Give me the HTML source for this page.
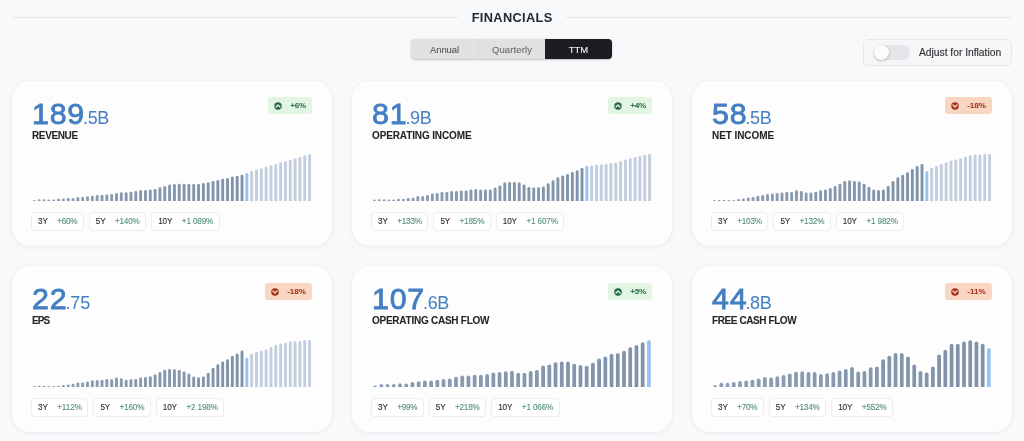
<!DOCTYPE html>
<html><head><meta charset="utf-8"><title>Financials</title>
<style>
*{box-sizing:border-box;margin:0;padding:0}
.num,.label,.badge,.pills,.title,.tabs,.infl{will-change:transform}
html,body{width:1024px;height:441px;overflow:hidden;-webkit-font-smoothing:antialiased;background:#f8f9fb;font-family:"Liberation Sans",Arial,sans-serif;}
.hline{position:absolute;top:17px;height:1px;background:#e5e6e9}
.title{position:absolute;left:0;width:1024px;top:9.5px;text-align:center;font-weight:bold;font-size:12.8px;color:#232a33;line-height:16px}
.tabs{position:absolute;left:410.7px;top:39.4px;width:201px;height:19.8px;border-radius:4px;background:#e0e1e3;box-shadow:0 1px 2px rgba(0,0,0,0.2),0 0 3px rgba(0,0,0,0.06);display:flex;overflow:hidden}
.tab{width:67px;height:100%;font-size:9.5px;line-height:21.8px;-webkit-text-stroke:0.1px currentColor;text-align:center;color:#6b6b6e}
.tab.a{color:#58585b}
.tab.sep{border-left:1px solid #d9dadc}
.tab.on{background:#1c1d20;color:#f2f2f2}
.infl{position:absolute;left:863px;top:39px;width:149px;height:26.5px;border:1px solid #e7e8eb;border-radius:5px;background:#f5f6f8}
.track{position:absolute;left:9.5px;top:4.8px;width:36px;height:15px;border-radius:8px;background:#e4e5e8}
.knob{position:absolute;left:9.6px;top:5px;width:15px;height:15px;border-radius:50%;background:#fbfbfb;box-shadow:0 1px 2.5px rgba(0,0,0,0.25)}
.infl .txt{position:absolute;left:55px;top:6px;font-size:10.3px;line-height:13px;color:#2f3033;-webkit-text-stroke:0.12px #2f3033}
.card{position:absolute;width:320px;height:165px;background:#fdfdfe;border-radius:18px;box-shadow:0 1px 5px rgba(30,40,60,0.065),0 0 1.5px rgba(30,40,60,0.05)}
.num{position:absolute;left:20px;top:14px;white-space:nowrap;color:#437fc2;line-height:36px}
.big{font-weight:normal;font-size:30.4px;-webkit-text-stroke:0.85px #437fc2}
.small{font-size:18px;margin-left:-1.8px}
.label{position:absolute;left:20px;top:48.6px;font-weight:bold;font-size:10px;line-height:12px;color:#222427;white-space:nowrap;-webkit-text-stroke:0.05px #222427}
.badge{position:absolute;right:20px;top:15.8px;height:16.8px;border-radius:3px;display:flex;align-items:center;padding:1px 6.5px 0 6.2px;font-size:8.1px;font-weight:bold}
.pct{-webkit-text-stroke:0.05px currentColor}
.badge svg{display:block;margin-right:8px}
.badge.up{background:#e2f6e3;color:#2f6f55}
.badge.dn{background:#f8d6c1;color:#a8331f}
.chart{position:absolute;left:20px;top:72px}
.pills{position:absolute;left:19.4px;top:130.5px;display:flex}
.pill{height:18.6px;border:1px solid #eeeef0;box-shadow:0 0 1px rgba(0,0,0,0.05);border-radius:4px;background:#fff;display:flex;align-items:center;padding:0.6px 5.4px 0 6.1px;margin-right:5px;font-size:8.2px;white-space:nowrap;-webkit-text-stroke:0.12px currentColor}
.pl{color:#2e2f33;margin-right:9.5px}
.pv{color:#53907a}
</style></head>
<body>
<div class="hline" style="left:12px;width:446px"></div>
<div class="hline" style="left:566px;width:446px"></div>
<div class="title"><span style="letter-spacing:0.342px;margin-right:-0.342px">FINANCIALS</span></div>
<div class="tabs"><div class="tab a"><span style="letter-spacing:-0.102px">Annual</span></div><div class="tab sep"><span style="letter-spacing:0.104px">Quarterly</span></div><div class="tab on"><span style="letter-spacing:0.070px">TTM</span></div></div>
<div class="infl"><div class="track"></div><div class="knob"></div><div class="txt"><span style="letter-spacing:-0.015px">Adjust for Inflation</span></div></div>
<div class="card" style="left:12px;top:81px">
  <div class="num"><span class="big" style="letter-spacing:0.725px">189</span><span class="small" style="letter-spacing:-0.377px">.5B</span></div>
  <div class="label" style="letter-spacing:-0.370px">REVENUE</div>
  <div class="badge up"><svg width="8" height="8" viewBox="0 0 8 8"><circle cx="4" cy="4" r="3.75" fill="#24654f"/><path d="M2 5 L4 3 L6 5" fill="none" stroke="#e3f6e4" stroke-width="1.4" stroke-linecap="round" stroke-linejoin="round"/></svg><span class="pct" style="letter-spacing:-0.266px">+6%</span></div>
  <svg class="chart" width="280" height="48" viewBox="0 0 280 48"><path d="M0.97 48.0V48.00A1.45 1.20 0 0 1 3.86 48.00V48.0Z" fill="rgb(140,158,180)"/><path d="M5.79 48.0V47.75A1.45 1.45 0 0 1 8.69 47.75V48.0Z" fill="rgb(140,158,180)"/><path d="M10.62 48.0V47.75A1.45 1.45 0 0 1 13.52 47.75V48.0Z" fill="rgb(139,157,179)"/><path d="M15.45 48.0V47.75A1.45 1.45 0 0 1 18.34 47.75V48.0Z" fill="rgb(139,157,179)"/><path d="M20.28 48.0V47.75A1.45 1.45 0 0 1 23.17 47.75V48.0Z" fill="rgb(139,157,179)"/><path d="M25.10 48.0V46.95A1.45 1.45 0 0 1 28.00 46.95V48.0Z" fill="rgb(139,157,179)"/><path d="M29.93 48.0V46.95A1.45 1.45 0 0 1 32.83 46.95V48.0Z" fill="rgb(138,156,178)"/><path d="M34.76 48.0V46.35A1.45 1.45 0 0 1 37.66 46.35V48.0Z" fill="rgb(138,156,178)"/><path d="M39.59 48.0V46.35A1.45 1.45 0 0 1 42.48 46.35V48.0Z" fill="rgb(138,156,178)"/><path d="M44.41 48.0V45.45A1.45 1.45 0 0 1 47.31 45.45V48.0Z" fill="rgb(137,155,177)"/><path d="M49.24 48.0V45.45A1.45 1.45 0 0 1 52.14 45.45V48.0Z" fill="rgb(137,155,177)"/><path d="M54.07 48.0V44.75A1.45 1.45 0 0 1 56.97 44.75V48.0Z" fill="rgb(137,155,177)"/><path d="M58.90 48.0V44.05A1.45 1.45 0 0 1 61.79 44.05V48.0Z" fill="rgb(137,155,177)"/><path d="M63.72 48.0V43.45A1.45 1.45 0 0 1 66.62 43.45V48.0Z" fill="rgb(136,154,176)"/><path d="M68.55 48.0V43.25A1.45 1.45 0 0 1 71.45 43.25V48.0Z" fill="rgb(136,154,176)"/><path d="M73.38 48.0V42.85A1.45 1.45 0 0 1 76.28 42.85V48.0Z" fill="rgb(136,154,176)"/><path d="M78.21 48.0V42.25A1.45 1.45 0 0 1 81.10 42.25V48.0Z" fill="rgb(136,154,176)"/><path d="M83.03 48.0V41.45A1.45 1.45 0 0 1 85.93 41.45V48.0Z" fill="rgb(135,153,175)"/><path d="M87.86 48.0V40.75A1.45 1.45 0 0 1 90.76 40.75V48.0Z" fill="rgb(135,153,175)"/><path d="M92.69 48.0V40.75A1.45 1.45 0 0 1 95.59 40.75V48.0Z" fill="rgb(135,153,175)"/><path d="M97.52 48.0V40.05A1.45 1.45 0 0 1 100.41 40.05V48.0Z" fill="rgb(134,152,174)"/><path d="M102.34 48.0V39.45A1.45 1.45 0 0 1 105.24 39.45V48.0Z" fill="rgb(134,152,174)"/><path d="M107.17 48.0V38.55A1.45 1.45 0 0 1 110.07 38.55V48.0Z" fill="rgb(134,152,174)"/><path d="M112.00 48.0V38.55A1.45 1.45 0 0 1 114.90 38.55V48.0Z" fill="rgb(134,152,174)"/><path d="M116.83 48.0V37.85A1.45 1.45 0 0 1 119.72 37.85V48.0Z" fill="rgb(133,151,173)"/><path d="M121.66 48.0V37.35A1.45 1.45 0 0 1 124.55 37.35V48.0Z" fill="rgb(133,151,173)"/><path d="M126.48 48.0V35.75A1.45 1.45 0 0 1 129.38 35.75V48.0Z" fill="rgb(133,151,173)"/><path d="M131.31 48.0V34.45A1.45 1.45 0 0 1 134.21 34.45V48.0Z" fill="rgb(132,150,172)"/><path d="M136.14 48.0V32.95A1.45 1.45 0 0 1 139.03 32.95V48.0Z" fill="rgb(132,150,172)"/><path d="M140.97 48.0V32.25A1.45 1.45 0 0 1 143.86 32.25V48.0Z" fill="rgb(132,150,172)"/><path d="M145.79 48.0V32.25A1.45 1.45 0 0 1 148.69 32.25V48.0Z" fill="rgb(132,150,172)"/><path d="M150.62 48.0V32.25A1.45 1.45 0 0 1 153.52 32.25V48.0Z" fill="rgb(131,149,171)"/><path d="M155.45 48.0V32.25A1.45 1.45 0 0 1 158.34 32.25V48.0Z" fill="rgb(131,149,171)"/><path d="M160.28 48.0V32.25A1.45 1.45 0 0 1 163.17 32.25V48.0Z" fill="rgb(131,149,171)"/><path d="M165.10 48.0V32.25A1.45 1.45 0 0 1 168.00 32.25V48.0Z" fill="rgb(131,149,171)"/><path d="M169.93 48.0V31.35A1.45 1.45 0 0 1 172.83 31.35V48.0Z" fill="rgb(130,148,170)"/><path d="M174.76 48.0V30.75A1.45 1.45 0 0 1 177.66 30.75V48.0Z" fill="rgb(130,148,170)"/><path d="M179.59 48.0V29.25A1.45 1.45 0 0 1 182.48 29.25V48.0Z" fill="rgb(130,148,170)"/><path d="M184.41 48.0V28.45A1.45 1.45 0 0 1 187.31 28.45V48.0Z" fill="rgb(129,147,169)"/><path d="M189.24 48.0V27.25A1.45 1.45 0 0 1 192.14 27.25V48.0Z" fill="rgb(129,147,169)"/><path d="M194.07 48.0V26.45A1.45 1.45 0 0 1 196.97 26.45V48.0Z" fill="rgb(129,147,169)"/><path d="M198.90 48.0V24.95A1.45 1.45 0 0 1 201.79 24.95V48.0Z" fill="rgb(129,147,169)"/><path d="M203.72 48.0V24.25A1.45 1.45 0 0 1 206.62 24.25V48.0Z" fill="rgb(128,146,168)"/><path d="M208.55 48.0V23.25A1.45 1.45 0 0 1 211.45 23.25V48.0Z" fill="rgb(128,146,168)"/><path d="M213.38 48.0V21.45A1.45 1.45 0 0 1 216.28 21.45V48.0Z" fill="#96c3ef"/><path d="M218.21 48.0V19.45A1.45 1.45 0 0 1 221.10 19.45V48.0Z" fill="#c2cddd"/><path d="M223.03 48.0V17.85A1.45 1.45 0 0 1 225.93 17.85V48.0Z" fill="#c2cddd"/><path d="M227.86 48.0V16.65A1.45 1.45 0 0 1 230.76 16.65V48.0Z" fill="#c2cddd"/><path d="M232.69 48.0V15.15A1.45 1.45 0 0 1 235.59 15.15V48.0Z" fill="#c2cddd"/><path d="M237.52 48.0V13.55A1.45 1.45 0 0 1 240.41 13.55V48.0Z" fill="#c2cddd"/><path d="M242.34 48.0V12.35A1.45 1.45 0 0 1 245.24 12.35V48.0Z" fill="#c2cddd"/><path d="M247.17 48.0V10.75A1.45 1.45 0 0 1 250.07 10.75V48.0Z" fill="#c2cddd"/><path d="M252.00 48.0V9.55A1.45 1.45 0 0 1 254.90 9.55V48.0Z" fill="#c2cddd"/><path d="M256.83 48.0V8.05A1.45 1.45 0 0 1 259.72 8.05V48.0Z" fill="#c2cddd"/><path d="M261.66 48.0V6.55A1.45 1.45 0 0 1 264.55 6.55V48.0Z" fill="#c2cddd"/><path d="M266.48 48.0V5.15A1.45 1.45 0 0 1 269.38 5.15V48.0Z" fill="#c2cddd"/><path d="M271.31 48.0V3.65A1.45 1.45 0 0 1 274.21 3.65V48.0Z" fill="#c2cddd"/><path d="M276.14 48.0V2.35A1.45 1.45 0 0 1 279.03 2.35V48.0Z" fill="#c2cddd"/></svg>
  <div class="pills"><div class="pill"><span class="pl" style="letter-spacing:-0.229px">3Y</span><span class="pv" style="letter-spacing:-0.249px">+60%</span></div><div class="pill"><span class="pl" style="letter-spacing:-0.229px">5Y</span><span class="pv" style="letter-spacing:-0.189px">+140%</span></div><div class="pill"><span class="pl" style="letter-spacing:-0.136px">10Y</span><span class="pv" style="letter-spacing:-0.163px">+1 089%</span></div></div>
</div><div class="card" style="left:352px;top:81px">
  <div class="num"><span class="big" style="letter-spacing:0.725px">81</span><span class="small" style="letter-spacing:-0.377px">.9B</span></div>
  <div class="label" style="letter-spacing:-0.127px">OPERATING INCOME</div>
  <div class="badge up"><svg width="8" height="8" viewBox="0 0 8 8"><circle cx="4" cy="4" r="3.75" fill="#24654f"/><path d="M2 5 L4 3 L6 5" fill="none" stroke="#e3f6e4" stroke-width="1.4" stroke-linecap="round" stroke-linejoin="round"/></svg><span class="pct" style="letter-spacing:-0.266px">+4%</span></div>
  <svg class="chart" width="280" height="48" viewBox="0 0 280 48"><path d="M0.97 48.0V47.95A1.45 1.45 0 0 1 3.86 47.95V48.0Z" fill="rgb(140,158,180)"/><path d="M5.79 48.0V47.75A1.45 1.45 0 0 1 8.69 47.75V48.0Z" fill="rgb(140,158,180)"/><path d="M10.62 48.0V47.75A1.45 1.45 0 0 1 13.52 47.75V48.0Z" fill="rgb(139,157,179)"/><path d="M15.45 48.0V47.75A1.45 1.45 0 0 1 18.34 47.75V48.0Z" fill="rgb(139,157,179)"/><path d="M20.28 48.0V47.75A1.45 1.45 0 0 1 23.17 47.75V48.0Z" fill="rgb(139,157,179)"/><path d="M25.10 48.0V47.25A1.45 1.45 0 0 1 28.00 47.25V48.0Z" fill="rgb(139,157,179)"/><path d="M29.93 48.0V47.25A1.45 1.45 0 0 1 32.83 47.25V48.0Z" fill="rgb(138,156,178)"/><path d="M34.76 48.0V46.35A1.45 1.45 0 0 1 37.66 46.35V48.0Z" fill="rgb(138,156,178)"/><path d="M39.59 48.0V45.75A1.45 1.45 0 0 1 42.48 45.75V48.0Z" fill="rgb(138,156,178)"/><path d="M44.41 48.0V44.45A1.45 1.45 0 0 1 47.31 44.45V48.0Z" fill="rgb(137,155,177)"/><path d="M49.24 48.0V44.45A1.45 1.45 0 0 1 52.14 44.45V48.0Z" fill="rgb(137,155,177)"/><path d="M54.07 48.0V43.45A1.45 1.45 0 0 1 56.97 43.45V48.0Z" fill="rgb(137,155,177)"/><path d="M58.90 48.0V41.95A1.45 1.45 0 0 1 61.79 41.95V48.0Z" fill="rgb(137,155,177)"/><path d="M63.72 48.0V41.35A1.45 1.45 0 0 1 66.62 41.35V48.0Z" fill="rgb(136,154,176)"/><path d="M68.55 48.0V40.35A1.45 1.45 0 0 1 71.45 40.35V48.0Z" fill="rgb(136,154,176)"/><path d="M73.38 48.0V40.35A1.45 1.45 0 0 1 76.28 40.35V48.0Z" fill="rgb(136,154,176)"/><path d="M78.21 48.0V39.45A1.45 1.45 0 0 1 81.10 39.45V48.0Z" fill="rgb(136,154,176)"/><path d="M83.03 48.0V39.45A1.45 1.45 0 0 1 85.93 39.45V48.0Z" fill="rgb(135,153,175)"/><path d="M87.86 48.0V38.85A1.45 1.45 0 0 1 90.76 38.85V48.0Z" fill="rgb(135,153,175)"/><path d="M92.69 48.0V38.85A1.45 1.45 0 0 1 95.59 38.85V48.0Z" fill="rgb(135,153,175)"/><path d="M97.52 48.0V37.95A1.45 1.45 0 0 1 100.41 37.95V48.0Z" fill="rgb(134,152,174)"/><path d="M102.34 48.0V37.35A1.45 1.45 0 0 1 105.24 37.35V48.0Z" fill="rgb(134,152,174)"/><path d="M107.17 48.0V37.95A1.45 1.45 0 0 1 110.07 37.95V48.0Z" fill="rgb(134,152,174)"/><path d="M112.00 48.0V37.95A1.45 1.45 0 0 1 114.90 37.95V48.0Z" fill="rgb(134,152,174)"/><path d="M116.83 48.0V37.95A1.45 1.45 0 0 1 119.72 37.95V48.0Z" fill="rgb(133,151,173)"/><path d="M121.66 48.0V35.75A1.45 1.45 0 0 1 124.55 35.75V48.0Z" fill="rgb(133,151,173)"/><path d="M126.48 48.0V33.85A1.45 1.45 0 0 1 129.38 33.85V48.0Z" fill="rgb(133,151,173)"/><path d="M131.31 48.0V30.95A1.45 1.45 0 0 1 134.21 30.95V48.0Z" fill="rgb(132,150,172)"/><path d="M136.14 48.0V30.25A1.45 1.45 0 0 1 139.03 30.25V48.0Z" fill="rgb(132,150,172)"/><path d="M140.97 48.0V30.25A1.45 1.45 0 0 1 143.86 30.25V48.0Z" fill="rgb(132,150,172)"/><path d="M145.79 48.0V30.95A1.45 1.45 0 0 1 148.69 30.95V48.0Z" fill="rgb(132,150,172)"/><path d="M150.62 48.0V32.95A1.45 1.45 0 0 1 153.52 32.95V48.0Z" fill="rgb(131,149,171)"/><path d="M155.45 48.0V35.25A1.45 1.45 0 0 1 158.34 35.25V48.0Z" fill="rgb(131,149,171)"/><path d="M160.28 48.0V35.75A1.45 1.45 0 0 1 163.17 35.75V48.0Z" fill="rgb(131,149,171)"/><path d="M165.10 48.0V35.75A1.45 1.45 0 0 1 168.00 35.75V48.0Z" fill="rgb(131,149,171)"/><path d="M169.93 48.0V35.05A1.45 1.45 0 0 1 172.83 35.05V48.0Z" fill="rgb(130,148,170)"/><path d="M174.76 48.0V31.75A1.45 1.45 0 0 1 177.66 31.75V48.0Z" fill="rgb(130,148,170)"/><path d="M179.59 48.0V28.65A1.45 1.45 0 0 1 182.48 28.65V48.0Z" fill="rgb(130,148,170)"/><path d="M184.41 48.0V25.75A1.45 1.45 0 0 1 187.31 25.75V48.0Z" fill="rgb(129,147,169)"/><path d="M189.24 48.0V23.85A1.45 1.45 0 0 1 192.14 23.85V48.0Z" fill="rgb(129,147,169)"/><path d="M194.07 48.0V22.35A1.45 1.45 0 0 1 196.97 22.35V48.0Z" fill="rgb(129,147,169)"/><path d="M198.90 48.0V20.35A1.45 1.45 0 0 1 201.79 20.35V48.0Z" fill="rgb(129,147,169)"/><path d="M203.72 48.0V18.65A1.45 1.45 0 0 1 206.62 18.65V48.0Z" fill="rgb(128,146,168)"/><path d="M208.55 48.0V16.15A1.45 1.45 0 0 1 211.45 16.15V48.0Z" fill="rgb(128,146,168)"/><path d="M213.38 48.0V14.45A1.45 1.45 0 0 1 216.28 14.45V48.0Z" fill="#96c3ef"/><path d="M218.21 48.0V13.75A1.45 1.45 0 0 1 221.10 13.75V48.0Z" fill="#c2cddd"/><path d="M223.03 48.0V12.95A1.45 1.45 0 0 1 225.93 12.95V48.0Z" fill="#c2cddd"/><path d="M227.86 48.0V12.95A1.45 1.45 0 0 1 230.76 12.95V48.0Z" fill="#c2cddd"/><path d="M232.69 48.0V12.35A1.45 1.45 0 0 1 235.59 12.35V48.0Z" fill="#c2cddd"/><path d="M237.52 48.0V11.45A1.45 1.45 0 0 1 240.41 11.45V48.0Z" fill="#c2cddd"/><path d="M242.34 48.0V10.75A1.45 1.45 0 0 1 245.24 10.75V48.0Z" fill="#c2cddd"/><path d="M247.17 48.0V9.45A1.45 1.45 0 0 1 250.07 9.45V48.0Z" fill="#c2cddd"/><path d="M252.00 48.0V8.05A1.45 1.45 0 0 1 254.90 8.05V48.0Z" fill="#c2cddd"/><path d="M256.83 48.0V6.65A1.45 1.45 0 0 1 259.72 6.65V48.0Z" fill="#c2cddd"/><path d="M261.66 48.0V5.25A1.45 1.45 0 0 1 264.55 5.25V48.0Z" fill="#c2cddd"/><path d="M266.48 48.0V4.45A1.45 1.45 0 0 1 269.38 4.45V48.0Z" fill="#c2cddd"/><path d="M271.31 48.0V3.25A1.45 1.45 0 0 1 274.21 3.25V48.0Z" fill="#c2cddd"/><path d="M276.14 48.0V2.35A1.45 1.45 0 0 1 279.03 2.35V48.0Z" fill="#c2cddd"/></svg>
  <div class="pills"><div class="pill"><span class="pl" style="letter-spacing:-0.229px">3Y</span><span class="pv" style="letter-spacing:-0.189px">+133%</span></div><div class="pill"><span class="pl" style="letter-spacing:-0.229px">5Y</span><span class="pv" style="letter-spacing:-0.189px">+185%</span></div><div class="pill"><span class="pl" style="letter-spacing:-0.136px">10Y</span><span class="pv" style="letter-spacing:-0.163px">+1 607%</span></div></div>
</div><div class="card" style="left:692px;top:81px">
  <div class="num"><span class="big" style="letter-spacing:0.725px">58</span><span class="small" style="letter-spacing:-0.377px">.5B</span></div>
  <div class="label" style="letter-spacing:-0.079px">NET INCOME</div>
  <div class="badge dn"><svg width="8" height="8" viewBox="0 0 8 8"><circle cx="4" cy="4" r="3.75" fill="#a42f1b"/><path d="M2 3.1 L4 5.1 L6 3.1" fill="none" stroke="#f8d6c1" stroke-width="1.4" stroke-linecap="round" stroke-linejoin="round"/></svg><span class="pct" style="letter-spacing:-0.081px">-18%</span></div>
  <svg class="chart" width="280" height="48" viewBox="0 0 280 48"><path d="M0.97 48.0V48.00A1.45 1.20 0 0 1 3.86 48.00V48.0Z" fill="rgb(140,158,180)"/><path d="M5.79 48.0V48.00A1.45 1.20 0 0 1 8.69 48.00V48.0Z" fill="rgb(140,158,180)"/><path d="M10.62 48.0V48.00A1.45 1.20 0 0 1 13.52 48.00V48.0Z" fill="rgb(139,157,179)"/><path d="M15.45 48.0V48.00A1.45 1.20 0 0 1 18.34 48.00V48.0Z" fill="rgb(139,157,179)"/><path d="M20.28 48.0V48.00A1.45 1.20 0 0 1 23.17 48.00V48.0Z" fill="rgb(139,157,179)"/><path d="M25.10 48.0V47.55A1.45 1.45 0 0 1 28.00 47.55V48.0Z" fill="rgb(139,157,179)"/><path d="M29.93 48.0V46.95A1.45 1.45 0 0 1 32.83 46.95V48.0Z" fill="rgb(138,156,178)"/><path d="M34.76 48.0V46.05A1.45 1.45 0 0 1 37.66 46.05V48.0Z" fill="rgb(138,156,178)"/><path d="M39.59 48.0V45.35A1.45 1.45 0 0 1 42.48 45.35V48.0Z" fill="rgb(138,156,178)"/><path d="M44.41 48.0V44.25A1.45 1.45 0 0 1 47.31 44.25V48.0Z" fill="rgb(137,155,177)"/><path d="M49.24 48.0V43.45A1.45 1.45 0 0 1 52.14 43.45V48.0Z" fill="rgb(137,155,177)"/><path d="M54.07 48.0V42.55A1.45 1.45 0 0 1 56.97 42.55V48.0Z" fill="rgb(137,155,177)"/><path d="M58.90 48.0V41.95A1.45 1.45 0 0 1 61.79 41.95V48.0Z" fill="rgb(137,155,177)"/><path d="M63.72 48.0V41.35A1.45 1.45 0 0 1 66.62 41.35V48.0Z" fill="rgb(136,154,176)"/><path d="M68.55 48.0V40.95A1.45 1.45 0 0 1 71.45 40.95V48.0Z" fill="rgb(136,154,176)"/><path d="M73.38 48.0V40.25A1.45 1.45 0 0 1 76.28 40.25V48.0Z" fill="rgb(136,154,176)"/><path d="M78.21 48.0V40.25A1.45 1.45 0 0 1 81.10 40.25V48.0Z" fill="rgb(136,154,176)"/><path d="M83.03 48.0V38.75A1.45 1.45 0 0 1 85.93 38.75V48.0Z" fill="rgb(135,153,175)"/><path d="M87.86 48.0V39.45A1.45 1.45 0 0 1 90.76 39.45V48.0Z" fill="rgb(135,153,175)"/><path d="M92.69 48.0V40.95A1.45 1.45 0 0 1 95.59 40.95V48.0Z" fill="rgb(135,153,175)"/><path d="M97.52 48.0V40.95A1.45 1.45 0 0 1 100.41 40.95V48.0Z" fill="rgb(134,152,174)"/><path d="M102.34 48.0V40.25A1.45 1.45 0 0 1 105.24 40.25V48.0Z" fill="rgb(134,152,174)"/><path d="M107.17 48.0V38.75A1.45 1.45 0 0 1 110.07 38.75V48.0Z" fill="rgb(134,152,174)"/><path d="M112.00 48.0V37.95A1.45 1.45 0 0 1 114.90 37.95V48.0Z" fill="rgb(134,152,174)"/><path d="M116.83 48.0V36.45A1.45 1.45 0 0 1 119.72 36.45V48.0Z" fill="rgb(133,151,173)"/><path d="M121.66 48.0V34.45A1.45 1.45 0 0 1 124.55 34.45V48.0Z" fill="rgb(133,151,173)"/><path d="M126.48 48.0V32.25A1.45 1.45 0 0 1 129.38 32.25V48.0Z" fill="rgb(133,151,173)"/><path d="M131.31 48.0V29.45A1.45 1.45 0 0 1 134.21 29.45V48.0Z" fill="rgb(132,150,172)"/><path d="M136.14 48.0V28.65A1.45 1.45 0 0 1 139.03 28.65V48.0Z" fill="rgb(132,150,172)"/><path d="M140.97 48.0V29.25A1.45 1.45 0 0 1 143.86 29.25V48.0Z" fill="rgb(132,150,172)"/><path d="M145.79 48.0V30.05A1.45 1.45 0 0 1 148.69 30.05V48.0Z" fill="rgb(132,150,172)"/><path d="M150.62 48.0V32.25A1.45 1.45 0 0 1 153.52 32.25V48.0Z" fill="rgb(131,149,171)"/><path d="M155.45 48.0V35.05A1.45 1.45 0 0 1 158.34 35.05V48.0Z" fill="rgb(131,149,171)"/><path d="M160.28 48.0V37.95A1.45 1.45 0 0 1 163.17 37.95V48.0Z" fill="rgb(131,149,171)"/><path d="M165.10 48.0V38.45A1.45 1.45 0 0 1 168.00 38.45V48.0Z" fill="rgb(131,149,171)"/><path d="M169.93 48.0V37.95A1.45 1.45 0 0 1 172.83 37.95V48.0Z" fill="rgb(130,148,170)"/><path d="M174.76 48.0V34.45A1.45 1.45 0 0 1 177.66 34.45V48.0Z" fill="rgb(130,148,170)"/><path d="M179.59 48.0V29.45A1.45 1.45 0 0 1 182.48 29.45V48.0Z" fill="rgb(130,148,170)"/><path d="M184.41 48.0V25.75A1.45 1.45 0 0 1 187.31 25.75V48.0Z" fill="rgb(129,147,169)"/><path d="M189.24 48.0V23.25A1.45 1.45 0 0 1 192.14 23.25V48.0Z" fill="rgb(129,147,169)"/><path d="M194.07 48.0V20.75A1.45 1.45 0 0 1 196.97 20.75V48.0Z" fill="rgb(129,147,169)"/><path d="M198.90 48.0V17.35A1.45 1.45 0 0 1 201.79 17.35V48.0Z" fill="rgb(129,147,169)"/><path d="M203.72 48.0V14.45A1.45 1.45 0 0 1 206.62 14.45V48.0Z" fill="rgb(128,146,168)"/><path d="M208.55 48.0V12.35A1.45 1.45 0 0 1 211.45 12.35V48.0Z" fill="rgb(128,146,168)"/><path d="M213.38 48.0V19.75A1.45 1.45 0 0 1 216.28 19.75V48.0Z" fill="#96c3ef"/><path d="M218.21 48.0V16.15A1.45 1.45 0 0 1 221.10 16.15V48.0Z" fill="#c2cddd"/><path d="M223.03 48.0V14.45A1.45 1.45 0 0 1 225.93 14.45V48.0Z" fill="#c2cddd"/><path d="M227.86 48.0V12.35A1.45 1.45 0 0 1 230.76 12.35V48.0Z" fill="#c2cddd"/><path d="M232.69 48.0V10.75A1.45 1.45 0 0 1 235.59 10.75V48.0Z" fill="#c2cddd"/><path d="M237.52 48.0V8.85A1.45 1.45 0 0 1 240.41 8.85V48.0Z" fill="#c2cddd"/><path d="M242.34 48.0V7.85A1.45 1.45 0 0 1 245.24 7.85V48.0Z" fill="#c2cddd"/><path d="M247.17 48.0V6.65A1.45 1.45 0 0 1 250.07 6.65V48.0Z" fill="#c2cddd"/><path d="M252.00 48.0V5.15A1.45 1.45 0 0 1 254.90 5.15V48.0Z" fill="#c2cddd"/><path d="M256.83 48.0V3.65A1.45 1.45 0 0 1 259.72 3.65V48.0Z" fill="#c2cddd"/><path d="M261.66 48.0V2.85A1.45 1.45 0 0 1 264.55 2.85V48.0Z" fill="#c2cddd"/><path d="M266.48 48.0V2.85A1.45 1.45 0 0 1 269.38 2.85V48.0Z" fill="#c2cddd"/><path d="M271.31 48.0V2.35A1.45 1.45 0 0 1 274.21 2.35V48.0Z" fill="#c2cddd"/><path d="M276.14 48.0V2.35A1.45 1.45 0 0 1 279.03 2.35V48.0Z" fill="#c2cddd"/></svg>
  <div class="pills"><div class="pill"><span class="pl" style="letter-spacing:-0.229px">3Y</span><span class="pv" style="letter-spacing:-0.189px">+103%</span></div><div class="pill"><span class="pl" style="letter-spacing:-0.229px">5Y</span><span class="pv" style="letter-spacing:-0.189px">+132%</span></div><div class="pill"><span class="pl" style="letter-spacing:-0.136px">10Y</span><span class="pv" style="letter-spacing:-0.163px">+1 982%</span></div></div>
</div><div class="card" style="left:12px;top:266px;height:166px">
  <div class="num"><span class="big" style="letter-spacing:0.725px">22</span><span class="small" style="letter-spacing:-0.104px">.75</span></div>
  <div class="label" style="letter-spacing:-0.862px">EPS</div>
  <div class="badge dn" style="top:17px"><svg width="8" height="8" viewBox="0 0 8 8"><circle cx="4" cy="4" r="3.75" fill="#a42f1b"/><path d="M2 3.1 L4 5.1 L6 3.1" fill="none" stroke="#f8d6c1" stroke-width="1.4" stroke-linecap="round" stroke-linejoin="round"/></svg><span class="pct" style="letter-spacing:-0.081px">-18%</span></div>
  <svg class="chart" style="top:73px" width="280" height="48" viewBox="0 0 280 48"><path d="M0.97 48.0V48.00A1.45 1.20 0 0 1 3.86 48.00V48.0Z" fill="rgb(140,158,180)"/><path d="M5.79 48.0V48.00A1.45 1.20 0 0 1 8.69 48.00V48.0Z" fill="rgb(140,158,180)"/><path d="M10.62 48.0V48.00A1.45 1.20 0 0 1 13.52 48.00V48.0Z" fill="rgb(139,157,179)"/><path d="M15.45 48.0V48.00A1.45 1.20 0 0 1 18.34 48.00V48.0Z" fill="rgb(139,157,179)"/><path d="M20.28 48.0V48.00A1.45 1.20 0 0 1 23.17 48.00V48.0Z" fill="rgb(139,157,179)"/><path d="M25.10 48.0V48.00A1.45 1.20 0 0 1 28.00 48.00V48.0Z" fill="rgb(139,157,179)"/><path d="M29.93 48.0V47.55A1.45 1.45 0 0 1 32.83 47.55V48.0Z" fill="rgb(138,156,178)"/><path d="M34.76 48.0V46.95A1.45 1.45 0 0 1 37.66 46.95V48.0Z" fill="rgb(138,156,178)"/><path d="M39.59 48.0V46.05A1.45 1.45 0 0 1 42.48 46.05V48.0Z" fill="rgb(138,156,178)"/><path d="M44.41 48.0V44.85A1.45 1.45 0 0 1 47.31 44.85V48.0Z" fill="rgb(137,155,177)"/><path d="M49.24 48.0V44.85A1.45 1.45 0 0 1 52.14 44.85V48.0Z" fill="rgb(137,155,177)"/><path d="M54.07 48.0V43.85A1.45 1.45 0 0 1 56.97 43.85V48.0Z" fill="rgb(137,155,177)"/><path d="M58.90 48.0V42.55A1.45 1.45 0 0 1 61.79 42.55V48.0Z" fill="rgb(137,155,177)"/><path d="M63.72 48.0V42.55A1.45 1.45 0 0 1 66.62 42.55V48.0Z" fill="rgb(136,154,176)"/><path d="M68.55 48.0V42.25A1.45 1.45 0 0 1 71.45 42.25V48.0Z" fill="rgb(136,154,176)"/><path d="M73.38 48.0V41.55A1.45 1.45 0 0 1 76.28 41.55V48.0Z" fill="rgb(136,154,176)"/><path d="M78.21 48.0V41.55A1.45 1.45 0 0 1 81.10 41.55V48.0Z" fill="rgb(136,154,176)"/><path d="M83.03 48.0V40.05A1.45 1.45 0 0 1 85.93 40.05V48.0Z" fill="rgb(135,153,175)"/><path d="M87.86 48.0V40.75A1.45 1.45 0 0 1 90.76 40.75V48.0Z" fill="rgb(135,153,175)"/><path d="M92.69 48.0V42.25A1.45 1.45 0 0 1 95.59 42.25V48.0Z" fill="rgb(135,153,175)"/><path d="M97.52 48.0V41.55A1.45 1.45 0 0 1 100.41 41.55V48.0Z" fill="rgb(134,152,174)"/><path d="M102.34 48.0V41.55A1.45 1.45 0 0 1 105.24 41.55V48.0Z" fill="rgb(134,152,174)"/><path d="M107.17 48.0V40.05A1.45 1.45 0 0 1 110.07 40.05V48.0Z" fill="rgb(134,152,174)"/><path d="M112.00 48.0V39.45A1.45 1.45 0 0 1 114.90 39.45V48.0Z" fill="rgb(134,152,174)"/><path d="M116.83 48.0V38.55A1.45 1.45 0 0 1 119.72 38.55V48.0Z" fill="rgb(133,151,173)"/><path d="M121.66 48.0V36.55A1.45 1.45 0 0 1 124.55 36.55V48.0Z" fill="rgb(133,151,173)"/><path d="M126.48 48.0V34.45A1.45 1.45 0 0 1 129.38 34.45V48.0Z" fill="rgb(133,151,173)"/><path d="M131.31 48.0V32.25A1.45 1.45 0 0 1 134.21 32.25V48.0Z" fill="rgb(132,150,172)"/><path d="M136.14 48.0V31.35A1.45 1.45 0 0 1 139.03 31.35V48.0Z" fill="rgb(132,150,172)"/><path d="M140.97 48.0V31.65A1.45 1.45 0 0 1 143.86 31.65V48.0Z" fill="rgb(132,150,172)"/><path d="M145.79 48.0V32.35A1.45 1.45 0 0 1 148.69 32.35V48.0Z" fill="rgb(132,150,172)"/><path d="M150.62 48.0V33.85A1.45 1.45 0 0 1 153.52 33.85V48.0Z" fill="rgb(131,149,171)"/><path d="M155.45 48.0V35.95A1.45 1.45 0 0 1 158.34 35.95V48.0Z" fill="rgb(131,149,171)"/><path d="M160.28 48.0V38.85A1.45 1.45 0 0 1 163.17 38.85V48.0Z" fill="rgb(131,149,171)"/><path d="M165.10 48.0V39.75A1.45 1.45 0 0 1 168.00 39.75V48.0Z" fill="rgb(131,149,171)"/><path d="M169.93 48.0V38.85A1.45 1.45 0 0 1 172.83 38.85V48.0Z" fill="rgb(130,148,170)"/><path d="M174.76 48.0V35.15A1.45 1.45 0 0 1 177.66 35.15V48.0Z" fill="rgb(130,148,170)"/><path d="M179.59 48.0V30.15A1.45 1.45 0 0 1 182.48 30.15V48.0Z" fill="rgb(130,148,170)"/><path d="M184.41 48.0V26.75A1.45 1.45 0 0 1 187.31 26.75V48.0Z" fill="rgb(129,147,169)"/><path d="M189.24 48.0V23.85A1.45 1.45 0 0 1 192.14 23.85V48.0Z" fill="rgb(129,147,169)"/><path d="M194.07 48.0V21.65A1.45 1.45 0 0 1 196.97 21.65V48.0Z" fill="rgb(129,147,169)"/><path d="M198.90 48.0V18.05A1.45 1.45 0 0 1 201.79 18.05V48.0Z" fill="rgb(129,147,169)"/><path d="M203.72 48.0V16.05A1.45 1.45 0 0 1 206.62 16.05V48.0Z" fill="rgb(128,146,168)"/><path d="M208.55 48.0V12.95A1.45 1.45 0 0 1 211.45 12.95V48.0Z" fill="rgb(128,146,168)"/><path d="M213.38 48.0V20.15A1.45 1.45 0 0 1 216.28 20.15V48.0Z" fill="#96c3ef"/><path d="M218.21 48.0V15.95A1.45 1.45 0 0 1 221.10 15.95V48.0Z" fill="#c2cddd"/><path d="M223.03 48.0V14.45A1.45 1.45 0 0 1 225.93 14.45V48.0Z" fill="#c2cddd"/><path d="M227.86 48.0V12.95A1.45 1.45 0 0 1 230.76 12.95V48.0Z" fill="#c2cddd"/><path d="M232.69 48.0V11.75A1.45 1.45 0 0 1 235.59 11.75V48.0Z" fill="#c2cddd"/><path d="M237.52 48.0V9.45A1.45 1.45 0 0 1 240.41 9.45V48.0Z" fill="#c2cddd"/><path d="M242.34 48.0V7.25A1.45 1.45 0 0 1 245.24 7.25V48.0Z" fill="#c2cddd"/><path d="M247.17 48.0V6.05A1.45 1.45 0 0 1 250.07 6.05V48.0Z" fill="#c2cddd"/><path d="M252.00 48.0V5.15A1.45 1.45 0 0 1 254.90 5.15V48.0Z" fill="#c2cddd"/><path d="M256.83 48.0V3.65A1.45 1.45 0 0 1 259.72 3.65V48.0Z" fill="#c2cddd"/><path d="M261.66 48.0V3.65A1.45 1.45 0 0 1 264.55 3.65V48.0Z" fill="#c2cddd"/><path d="M266.48 48.0V3.65A1.45 1.45 0 0 1 269.38 3.65V48.0Z" fill="#c2cddd"/><path d="M271.31 48.0V2.35A1.45 1.45 0 0 1 274.21 2.35V48.0Z" fill="#c2cddd"/><path d="M276.14 48.0V2.35A1.45 1.45 0 0 1 279.03 2.35V48.0Z" fill="#c2cddd"/></svg>
  <div class="pills" style="top:132px"><div class="pill"><span class="pl" style="letter-spacing:-0.229px">3Y</span><span class="pv" style="letter-spacing:-0.067px">+112%</span></div><div class="pill"><span class="pl" style="letter-spacing:-0.229px">5Y</span><span class="pv" style="letter-spacing:-0.189px">+160%</span></div><div class="pill"><span class="pl" style="letter-spacing:-0.136px">10Y</span><span class="pv" style="letter-spacing:-0.163px">+2 198%</span></div></div>
</div><div class="card" style="left:352px;top:266px;height:166px">
  <div class="num"><span class="big" style="letter-spacing:0.725px">107</span><span class="small" style="letter-spacing:-0.377px">.6B</span></div>
  <div class="label" style="letter-spacing:-0.251px">OPERATING CASH FLOW</div>
  <div class="badge up" style="top:17px"><svg width="8" height="8" viewBox="0 0 8 8"><circle cx="4" cy="4" r="3.75" fill="#24654f"/><path d="M2 5 L4 3 L6 5" fill="none" stroke="#e3f6e4" stroke-width="1.4" stroke-linecap="round" stroke-linejoin="round"/></svg><span class="pct" style="letter-spacing:-0.266px">+5%</span></div>
  <svg class="chart" style="top:73px" width="280" height="48" viewBox="0 0 280 48"><path d="M1.24 48.0V48.00A1.87 1.60 0 0 1 4.98 48.00V48.0Z" fill="rgb(140,158,180)"/><path d="M7.47 48.0V46.77A1.87 1.87 0 0 1 11.20 46.77V48.0Z" fill="rgb(140,158,180)"/><path d="M13.69 48.0V46.77A1.87 1.87 0 0 1 17.42 46.77V48.0Z" fill="rgb(139,157,179)"/><path d="M19.91 48.0V46.77A1.87 1.87 0 0 1 23.64 46.77V48.0Z" fill="rgb(139,157,179)"/><path d="M26.13 48.0V46.17A1.87 1.87 0 0 1 29.87 46.17V48.0Z" fill="rgb(139,157,179)"/><path d="M32.36 48.0V46.17A1.87 1.87 0 0 1 36.09 46.17V48.0Z" fill="rgb(139,157,179)"/><path d="M38.58 48.0V44.67A1.87 1.87 0 0 1 42.31 44.67V48.0Z" fill="rgb(138,156,178)"/><path d="M44.80 48.0V43.97A1.87 1.87 0 0 1 48.53 43.97V48.0Z" fill="rgb(138,156,178)"/><path d="M51.02 48.0V43.27A1.87 1.87 0 0 1 54.76 43.27V48.0Z" fill="rgb(138,156,178)"/><path d="M57.24 48.0V43.27A1.87 1.87 0 0 1 60.98 43.27V48.0Z" fill="rgb(137,155,177)"/><path d="M63.47 48.0V42.37A1.87 1.87 0 0 1 67.20 42.37V48.0Z" fill="rgb(137,155,177)"/><path d="M69.69 48.0V41.77A1.87 1.87 0 0 1 73.42 41.77V48.0Z" fill="rgb(137,155,177)"/><path d="M75.91 48.0V41.17A1.87 1.87 0 0 1 79.64 41.17V48.0Z" fill="rgb(137,155,177)"/><path d="M82.13 48.0V39.67A1.87 1.87 0 0 1 85.87 39.67V48.0Z" fill="rgb(136,154,176)"/><path d="M88.36 48.0V38.27A1.87 1.87 0 0 1 92.09 38.27V48.0Z" fill="rgb(136,154,176)"/><path d="M94.58 48.0V38.27A1.87 1.87 0 0 1 98.31 38.27V48.0Z" fill="rgb(136,154,176)"/><path d="M100.80 48.0V37.37A1.87 1.87 0 0 1 104.53 37.37V48.0Z" fill="rgb(136,154,176)"/><path d="M107.02 48.0V37.67A1.87 1.87 0 0 1 110.76 37.67V48.0Z" fill="rgb(135,153,175)"/><path d="M113.24 48.0V36.97A1.87 1.87 0 0 1 116.98 36.97V48.0Z" fill="rgb(135,153,175)"/><path d="M119.47 48.0V35.27A1.87 1.87 0 0 1 123.20 35.27V48.0Z" fill="rgb(135,153,175)"/><path d="M125.69 48.0V34.67A1.87 1.87 0 0 1 129.42 34.67V48.0Z" fill="rgb(134,152,174)"/><path d="M131.91 48.0V33.97A1.87 1.87 0 0 1 135.64 33.97V48.0Z" fill="rgb(134,152,174)"/><path d="M138.13 48.0V33.67A1.87 1.87 0 0 1 141.87 33.67V48.0Z" fill="rgb(134,152,174)"/><path d="M144.36 48.0V35.47A1.87 1.87 0 0 1 148.09 35.47V48.0Z" fill="rgb(134,152,174)"/><path d="M150.58 48.0V35.47A1.87 1.87 0 0 1 154.31 35.47V48.0Z" fill="rgb(133,151,173)"/><path d="M156.80 48.0V33.67A1.87 1.87 0 0 1 160.53 33.67V48.0Z" fill="rgb(133,151,173)"/><path d="M163.02 48.0V32.77A1.87 1.87 0 0 1 166.76 32.77V48.0Z" fill="rgb(133,151,173)"/><path d="M169.24 48.0V28.37A1.87 1.87 0 0 1 172.98 28.37V48.0Z" fill="rgb(132,150,172)"/><path d="M175.47 48.0V27.17A1.87 1.87 0 0 1 179.20 27.17V48.0Z" fill="rgb(132,150,172)"/><path d="M181.69 48.0V24.87A1.87 1.87 0 0 1 185.42 24.87V48.0Z" fill="rgb(132,150,172)"/><path d="M187.91 48.0V24.27A1.87 1.87 0 0 1 191.64 24.27V48.0Z" fill="rgb(132,150,172)"/><path d="M194.13 48.0V24.27A1.87 1.87 0 0 1 197.87 24.27V48.0Z" fill="rgb(131,149,171)"/><path d="M200.36 48.0V26.57A1.87 1.87 0 0 1 204.09 26.57V48.0Z" fill="rgb(131,149,171)"/><path d="M206.58 48.0V27.77A1.87 1.87 0 0 1 210.31 27.77V48.0Z" fill="rgb(131,149,171)"/><path d="M212.80 48.0V28.37A1.87 1.87 0 0 1 216.53 28.37V48.0Z" fill="rgb(131,149,171)"/><path d="M219.02 48.0V25.57A1.87 1.87 0 0 1 222.76 25.57V48.0Z" fill="rgb(130,148,170)"/><path d="M225.24 48.0V21.37A1.87 1.87 0 0 1 228.98 21.37V48.0Z" fill="rgb(130,148,170)"/><path d="M231.47 48.0V19.27A1.87 1.87 0 0 1 235.20 19.27V48.0Z" fill="rgb(130,148,170)"/><path d="M237.69 48.0V16.57A1.87 1.87 0 0 1 241.42 16.57V48.0Z" fill="rgb(129,147,169)"/><path d="M243.91 48.0V15.77A1.87 1.87 0 0 1 247.64 15.77V48.0Z" fill="rgb(129,147,169)"/><path d="M250.13 48.0V13.67A1.87 1.87 0 0 1 253.87 13.67V48.0Z" fill="rgb(129,147,169)"/><path d="M256.36 48.0V9.97A1.87 1.87 0 0 1 260.09 9.97V48.0Z" fill="rgb(129,147,169)"/><path d="M262.58 48.0V7.77A1.87 1.87 0 0 1 266.31 7.77V48.0Z" fill="rgb(128,146,168)"/><path d="M268.80 48.0V4.97A1.87 1.87 0 0 1 272.53 4.97V48.0Z" fill="rgb(128,146,168)"/><path d="M275.02 48.0V2.77A1.87 1.87 0 0 1 278.76 2.77V48.0Z" fill="#96c3ef"/></svg>
  <div class="pills" style="top:132px"><div class="pill"><span class="pl" style="letter-spacing:-0.229px">3Y</span><span class="pv" style="letter-spacing:-0.249px">+99%</span></div><div class="pill"><span class="pl" style="letter-spacing:-0.229px">5Y</span><span class="pv" style="letter-spacing:-0.189px">+218%</span></div><div class="pill"><span class="pl" style="letter-spacing:-0.136px">10Y</span><span class="pv" style="letter-spacing:-0.163px">+1 066%</span></div></div>
</div><div class="card" style="left:692px;top:266px;height:166px">
  <div class="num"><span class="big" style="letter-spacing:0.725px">44</span><span class="small" style="letter-spacing:-0.377px">.8B</span></div>
  <div class="label" style="letter-spacing:-0.411px">FREE CASH FLOW</div>
  <div class="badge dn" style="top:17px"><svg width="8" height="8" viewBox="0 0 8 8"><circle cx="4" cy="4" r="3.75" fill="#a42f1b"/><path d="M2 3.1 L4 5.1 L6 3.1" fill="none" stroke="#f8d6c1" stroke-width="1.4" stroke-linecap="round" stroke-linejoin="round"/></svg><span class="pct" style="letter-spacing:0.031px">-11%</span></div>
  <svg class="chart" style="top:73px" width="280" height="48" viewBox="0 0 280 48"><path d="M1.24 48.0V47.77A1.87 1.87 0 0 1 4.98 47.77V48.0Z" fill="rgb(140,158,180)"/><path d="M7.47 48.0V45.47A1.87 1.87 0 0 1 11.20 45.47V48.0Z" fill="rgb(140,158,180)"/><path d="M13.69 48.0V45.47A1.87 1.87 0 0 1 17.42 45.47V48.0Z" fill="rgb(139,157,179)"/><path d="M19.91 48.0V44.67A1.87 1.87 0 0 1 23.64 44.67V48.0Z" fill="rgb(139,157,179)"/><path d="M26.13 48.0V43.97A1.87 1.87 0 0 1 29.87 43.97V48.0Z" fill="rgb(139,157,179)"/><path d="M32.36 48.0V43.27A1.87 1.87 0 0 1 36.09 43.27V48.0Z" fill="rgb(139,157,179)"/><path d="M38.58 48.0V42.37A1.87 1.87 0 0 1 42.31 42.37V48.0Z" fill="rgb(138,156,178)"/><path d="M44.80 48.0V41.17A1.87 1.87 0 0 1 48.53 41.17V48.0Z" fill="rgb(138,156,178)"/><path d="M51.02 48.0V39.87A1.87 1.87 0 0 1 54.76 39.87V48.0Z" fill="rgb(138,156,178)"/><path d="M57.24 48.0V40.47A1.87 1.87 0 0 1 60.98 40.47V48.0Z" fill="rgb(137,155,177)"/><path d="M63.47 48.0V38.97A1.87 1.87 0 0 1 67.20 38.97V48.0Z" fill="rgb(137,155,177)"/><path d="M69.69 48.0V37.77A1.87 1.87 0 0 1 73.42 37.77V48.0Z" fill="rgb(137,155,177)"/><path d="M75.91 48.0V36.17A1.87 1.87 0 0 1 79.64 36.17V48.0Z" fill="rgb(137,155,177)"/><path d="M82.13 48.0V34.67A1.87 1.87 0 0 1 85.87 34.67V48.0Z" fill="rgb(136,154,176)"/><path d="M88.36 48.0V33.97A1.87 1.87 0 0 1 92.09 33.97V48.0Z" fill="rgb(136,154,176)"/><path d="M94.58 48.0V34.67A1.87 1.87 0 0 1 98.31 34.67V48.0Z" fill="rgb(136,154,176)"/><path d="M100.80 48.0V34.67A1.87 1.87 0 0 1 104.53 34.67V48.0Z" fill="rgb(136,154,176)"/><path d="M107.02 48.0V36.97A1.87 1.87 0 0 1 110.76 36.97V48.0Z" fill="rgb(135,153,175)"/><path d="M113.24 48.0V36.17A1.87 1.87 0 0 1 116.98 36.17V48.0Z" fill="rgb(135,153,175)"/><path d="M119.47 48.0V34.67A1.87 1.87 0 0 1 123.20 34.67V48.0Z" fill="rgb(135,153,175)"/><path d="M125.69 48.0V33.27A1.87 1.87 0 0 1 129.42 33.27V48.0Z" fill="rgb(134,152,174)"/><path d="M131.91 48.0V31.77A1.87 1.87 0 0 1 135.64 31.77V48.0Z" fill="rgb(134,152,174)"/><path d="M138.13 48.0V29.87A1.87 1.87 0 0 1 141.87 29.87V48.0Z" fill="rgb(134,152,174)"/><path d="M144.36 48.0V34.27A1.87 1.87 0 0 1 148.09 34.27V48.0Z" fill="rgb(134,152,174)"/><path d="M150.58 48.0V33.67A1.87 1.87 0 0 1 154.31 33.67V48.0Z" fill="rgb(133,151,173)"/><path d="M156.80 48.0V29.87A1.87 1.87 0 0 1 160.53 29.87V48.0Z" fill="rgb(133,151,173)"/><path d="M163.02 48.0V29.27A1.87 1.87 0 0 1 166.76 29.27V48.0Z" fill="rgb(133,151,173)"/><path d="M169.24 48.0V22.07A1.87 1.87 0 0 1 172.98 22.07V48.0Z" fill="rgb(132,150,172)"/><path d="M175.47 48.0V18.37A1.87 1.87 0 0 1 179.20 18.37V48.0Z" fill="rgb(132,150,172)"/><path d="M181.69 48.0V15.77A1.87 1.87 0 0 1 185.42 15.77V48.0Z" fill="rgb(132,150,172)"/><path d="M187.91 48.0V15.77A1.87 1.87 0 0 1 191.64 15.77V48.0Z" fill="rgb(132,150,172)"/><path d="M194.13 48.0V19.27A1.87 1.87 0 0 1 197.87 19.27V48.0Z" fill="rgb(131,149,171)"/><path d="M200.36 48.0V27.17A1.87 1.87 0 0 1 204.09 27.17V48.0Z" fill="rgb(131,149,171)"/><path d="M206.58 48.0V33.67A1.87 1.87 0 0 1 210.31 33.67V48.0Z" fill="rgb(131,149,171)"/><path d="M212.80 48.0V35.17A1.87 1.87 0 0 1 216.53 35.17V48.0Z" fill="rgb(131,149,171)"/><path d="M219.02 48.0V29.27A1.87 1.87 0 0 1 222.76 29.27V48.0Z" fill="rgb(130,148,170)"/><path d="M225.24 48.0V17.37A1.87 1.87 0 0 1 228.98 17.37V48.0Z" fill="rgb(130,148,170)"/><path d="M231.47 48.0V12.37A1.87 1.87 0 0 1 235.20 12.37V48.0Z" fill="rgb(130,148,170)"/><path d="M237.69 48.0V6.57A1.87 1.87 0 0 1 241.42 6.57V48.0Z" fill="rgb(129,147,169)"/><path d="M243.91 48.0V6.57A1.87 1.87 0 0 1 247.64 6.57V48.0Z" fill="rgb(129,147,169)"/><path d="M250.13 48.0V4.27A1.87 1.87 0 0 1 253.87 4.27V48.0Z" fill="rgb(129,147,169)"/><path d="M256.36 48.0V3.07A1.87 1.87 0 0 1 260.09 3.07V48.0Z" fill="rgb(129,147,169)"/><path d="M262.58 48.0V4.27A1.87 1.87 0 0 1 266.31 4.27V48.0Z" fill="rgb(128,146,168)"/><path d="M268.80 48.0V6.57A1.87 1.87 0 0 1 272.53 6.57V48.0Z" fill="rgb(128,146,168)"/><path d="M275.02 48.0V10.87A1.87 1.87 0 0 1 278.76 10.87V48.0Z" fill="#96c3ef"/></svg>
  <div class="pills" style="top:132px"><div class="pill"><span class="pl" style="letter-spacing:-0.229px">3Y</span><span class="pv" style="letter-spacing:-0.249px">+70%</span></div><div class="pill"><span class="pl" style="letter-spacing:-0.229px">5Y</span><span class="pv" style="letter-spacing:-0.189px">+134%</span></div><div class="pill"><span class="pl" style="letter-spacing:-0.136px">10Y</span><span class="pv" style="letter-spacing:-0.189px">+552%</span></div></div>
</div>
</body></html>
